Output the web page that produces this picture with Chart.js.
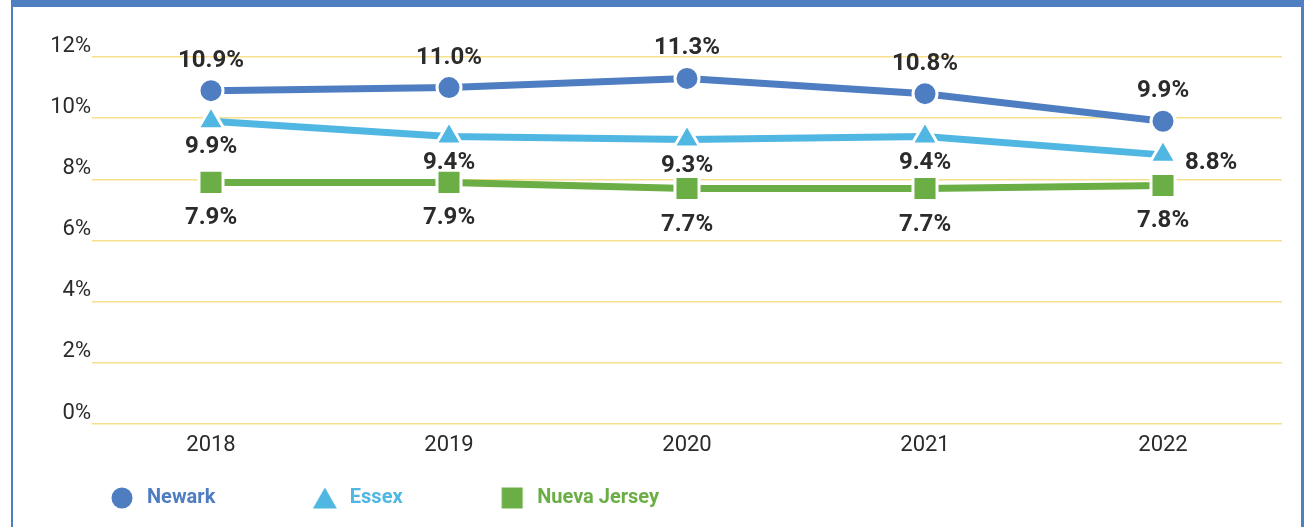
<!DOCTYPE html>
<html>
<head>
<meta charset="utf-8">
<script src="https://cdn.jsdelivr.net/npm/chart.js@4.4.1/dist/chart.umd.min.js"></script>
<style>
  html, body { margin: 0; padding: 0; background: #ffffff; }
  #wrap { position: relative; width: 1306px; height: 527px; overflow: hidden; }
  #frame { position: absolute; left: 11px; top: 0; width: 1293px; height: 540px; box-sizing: border-box;
           border-top: 7px solid #4f7fc0; border-left: 2px solid #4f7fc0; border-right: 3px solid #4f7fc0; }
  #c { position: absolute; left: 0; top: 0; }
</style>
</head>
<body>
<div id="wrap">
  <div id="frame"></div>
  <canvas id="c" width="1306" height="527"></canvas>
</div>
<script>
const years = ['2018', '2019', '2020', '2021', '2022'];
const newark = [10.9, 11.0, 11.3, 10.8, 9.9];
const essex = [9.9, 9.4, 9.3, 9.4, 8.8];
const nuevaJersey = [7.9, 7.9, 7.7, 7.7, 7.8];
const seriesNames = ['Newark', 'Essex', 'Nueva Jersey'];
const yTicks = [0, 2, 4, 6, 8, 10, 12];

const cNewark = '#4e7ec1';
const cEssex = '#50b6e2';
const cNJ = '#6aae45';
const textDark = '#2b2b2b';

function iconCanvas(kind, color) {
  const cv = document.createElement('canvas');
  cv.width = 26; cv.height = 24;
  const g = cv.getContext('2d');
  g.fillStyle = color;
  g.beginPath();
  if (kind === 'circle') {
    g.arc(13, 12, 10.5, 0, Math.PI * 2);
  } else if (kind === 'triangle') {
    g.moveTo(13, 1.5); g.lineTo(25, 22.5); g.lineTo(1, 22.5); g.closePath();
  } else {
    g.rect(2.5, 1.5, 21, 21);
  }
  g.fill();
  return cv;
}

const legendFont = 'bold 20px Roboto';
const mctx = document.createElement('canvas').getContext('2d');
mctx.font = legendFont;
function padTo(text, w) {
  let t = text;
  while (mctx.measureText(t).width < w) t += ' ';
  return t;
}
const legendTextWidths = [145, 132, 0];

const dataLabelPlugin = {
  id: 'dataLabels',
  afterDatasetsDraw(chart) {
    const ctx = chart.ctx;
    ctx.save();
    ctx.font = 'bold 24px Roboto';
    ctx.fillStyle = textDark;
    ctx.textBaseline = 'middle';
    chart.data.datasets.forEach((ds, di) => {
      const meta = chart.getDatasetMeta(di);
      meta.data.forEach((pt, i) => {
        const txt = ds.data[i].toFixed(1) + '%';
        let x = pt.x, y = pt.y;
        ctx.textAlign = 'center';
        if (di === 0) { y -= 30; }
        else if (di === 1) {
          if (i === ds.data.length - 1) { ctx.textAlign = 'left'; x += 22; y += 8; }
          else { y += 26; }
        } else { y += 36; }
        ctx.fillText(txt, x, y);
      });
    });
    ctx.restore();
  }
};

const ctx = document.getElementById('c').getContext('2d');
new Chart(ctx, {
  type: 'line',
  data: {
    labels: years,
    datasets: [
      { label: seriesNames[0], data: newark, borderColor: cNewark, backgroundColor: cNewark,
        borderWidth: 7, pointStyle: 'circle', pointRadius: 12, pointBorderColor: '#ffffff',
        pointBorderWidth: 3, pointBackgroundColor: cNewark, tension: 0, clip: false },
      { label: seriesNames[1], data: essex, borderColor: cEssex, backgroundColor: cEssex,
        borderWidth: 7, pointStyle: 'triangle', pointRadius: 15, pointBorderColor: '#ffffff',
        pointBorderWidth: 3, pointBackgroundColor: cEssex, tension: 0, clip: false },
      { label: seriesNames[2], data: nuevaJersey, borderColor: cNJ, backgroundColor: cNJ,
        borderWidth: 7, pointStyle: 'rect', pointRadius: 17, pointBorderColor: '#ffffff',
        pointBorderWidth: 3, pointBackgroundColor: cNJ, tension: 0, clip: false }
    ]
  },
  options: {
    responsive: false,
    animation: false,
    events: [],
    layout: { padding: { top: 57, left: 0, right: 24, bottom: 9 } },
    scales: {
      x: {
        offset: true,
        grid: { display: false, drawTicks: false },
        border: { display: false },
        ticks: { color: textDark, font: { family: 'Roboto', size: 22 }, padding: 8 },
        afterFit(s) { s.height = 49; }
      },
      y: {
        min: 0, max: 12,
        afterBuildTicks(s) { s.ticks = yTicks.map(v => ({ value: v })); },
        grid: { color: '#f8df8c', lineWidth: 1.5, drawTicks: false },
        border: { display: false },
        ticks: { color: textDark, font: { family: 'Roboto', size: 22 }, padding: 1, labelOffset: -11,
                 callback: v => v + '%' },
        afterFit(s) { s.width = 92; }
      }
    },
    plugins: {
      tooltip: { enabled: false },
      legend: {
        position: 'bottom',
        align: 'start',
        fullSize: false,
        labels: {
          usePointStyle: true,
          pointStyleWidth: 30,
          padding: 15,
          font: { family: 'Roboto', size: 20, weight: 'bold' },
          color: textDark,
          generateLabels(chart) {
            const kinds = ['circle', 'triangle', 'rect'];
            return chart.data.datasets.map((ds, i) => ({
              text: padTo(ds.label, legendTextWidths[i]),
              fontColor: ds.borderColor,
              fillStyle: ds.borderColor,
              strokeStyle: ds.borderColor,
              lineWidth: 0,
              pointStyle: iconCanvas(kinds[i], ds.borderColor),
              hidden: false,
              datasetIndex: i
            }));
          }
        }
      }
    }
  },
  plugins: [dataLabelPlugin]
});
</script>
</body>
</html>
